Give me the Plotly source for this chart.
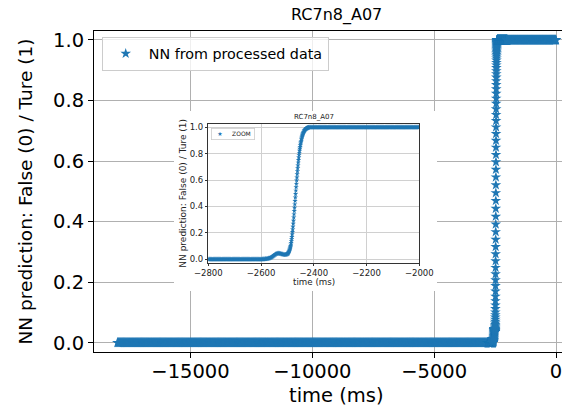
import numpy as np
import plotly.graph_objects as go

# ---------------- data: NN output vs. time (ms) ----------------
low_level = 0.0     # plateau before the transition
high_level = 1.0    # plateau after the transition

# sample times of the flat stretches
t_early = np.arange(-18000, -2800, 20)
t_pre = np.arange(-2800, -2600, 2)

# small bump ahead of the switch (2 ms samples)
t_bump = np.arange(-2600, -2500, 2)
v_bump = [0.000, 0.000, 0.000, 0.001, 0.001, 0.001, 0.002, 0.002, 0.003, 0.003,
          0.004, 0.004, 0.005, 0.006, 0.007, 0.008, 0.009, 0.010, 0.012, 0.014,
          0.016, 0.019, 0.022, 0.025, 0.028, 0.031, 0.034, 0.037, 0.040, 0.042,
          0.043, 0.044, 0.045, 0.045, 0.045, 0.045, 0.044, 0.043, 0.042, 0.040,
          0.039, 0.038, 0.037, 0.036, 0.036, 0.035, 0.035, 0.036, 0.037, 0.039]

# the switch itself (1 ms samples)
t_rise = np.arange(-2500, -2420, 1)
v_rise = [0.041, 0.043, 0.045, 0.048, 0.051, 0.055, 0.059, 0.064, 0.070, 0.077,
          0.084, 0.092, 0.101, 0.112, 0.124, 0.138, 0.153, 0.170, 0.188, 0.207,
          0.227, 0.248, 0.270, 0.293, 0.317, 0.341, 0.366, 0.391, 0.417, 0.443,
          0.469, 0.495, 0.521, 0.547, 0.572, 0.597, 0.621, 0.645, 0.668, 0.690,
          0.712, 0.733, 0.753, 0.772, 0.790, 0.807, 0.823, 0.838, 0.852, 0.865,
          0.877, 0.888, 0.898, 0.908, 0.917, 0.925, 0.933, 0.940, 0.946, 0.952,
          0.957, 0.962, 0.966, 0.970, 0.974, 0.977, 0.980, 0.983, 0.985, 0.987,
          0.989, 0.991, 0.992, 0.993, 0.994, 0.995, 0.996, 0.997, 0.998, 0.998]

t_late = np.arange(-2420, -2000, 2)
t_tail = np.arange(-2000, 1, 10)

x_tick_vals = [-15000, -10000, -5000, 0]
x_tick_text = ["\u221215000", "\u221210000", "\u22125000", "0"]
y_tick_vals = [0.0, 0.2, 0.4, 0.6, 0.8, 1.0]
inset_x_ticks = [-2800, -2600, -2400, -2200, -2000]
inset_x_text = ["\u22122800", "\u22122600", "\u22122400", "\u22122200", "\u22122000"]

time = np.concatenate([t_early, t_pre, t_bump, t_rise, t_late, t_tail])
pred = np.concatenate([
    np.full(len(t_early) + len(t_pre), low_level),
    v_bump,
    v_rise,
    np.full(len(t_late) + len(t_tail), high_level),
])
zoom = (time >= -2800) & (time <= -2000)

# ---------------- layout helpers (pixel -> paper) ----------------
W, H = 562, 411
ML, MR, MT, MB = 94, 0, 31, 59
PW, PH = W - ML - MR, H - MT - MB


def px(x):
    return (x - ML) / PW


def py(y):
    return (H - MB - y) / PH


BLUE = "#1f77b4"
FONT = "DejaVu Sans"
GRID = "#b0b0b0"

fig = go.Figure()

fig.add_trace(go.Scatter(
    x=time, y=pred, mode="markers", name="NN from processed data",
    marker=dict(symbol="star", size=8, color=BLUE),
    xaxis="x", yaxis="y",
))
# white panel behind the zoomed view
fig.add_trace(go.Scatter(x=[], y=[], xaxis="x2", yaxis="y2",
                         showlegend=False, hoverinfo="skip"))
fig.add_trace(go.Scatter(
    x=time[zoom], y=pred[zoom], mode="markers", name="ZOOM",
    marker=dict(symbol="star", size=4, color=BLUE),
    xaxis="x3", yaxis="y3", showlegend=False,
))

main_axis = dict(
    showline=True, linecolor="black", linewidth=1, automargin=False,
    ticks="outside", ticklen=5, tickwidth=1, tickcolor="black",
    showgrid=True, gridcolor=GRID, gridwidth=0.8, zeroline=False,
    tickfont=dict(family=FONT, size=19.5, color="black"),
    ticklabeloverflow="allow",
)
inset_axis = dict(
    showline=True, linecolor="#333333", linewidth=0.8, mirror=True,
    automargin=False, ticklabeloverflow="allow",
    ticks="outside", ticklen=2.5, tickwidth=0.7, tickcolor="#333333",
    showgrid=True, gridcolor="#d0d0d0", gridwidth=0.6, zeroline=False,
    tickfont=dict(family=FONT, size=8.5, color="#222222"),
)
hidden_axis = dict(range=[0, 1], showgrid=False, zeroline=False,
                   showticklabels=False, showline=False, ticks="",
                   fixedrange=True, automargin=False)

fig.update_layout(
    width=W, height=H, autosize=False,
    margin=dict(l=ML, r=MR, t=MT, b=MB, pad=0, autoexpand=False),
    paper_bgcolor="white", plot_bgcolor="white",
    font=dict(family=FONT, color="black"),
    xaxis=dict(main_axis, domain=[0, 1], range=[-18960, 246], mirror=True,
               tickvals=x_tick_vals, ticktext=x_tick_text, anchor="y",
               ticklabelstandoff=-3),
    yaxis=dict(main_axis, domain=[0, 1], range=[-0.0307, 1.0297],
               tickvals=y_tick_vals, tickformat=".1f", anchor="x"),
    xaxis2=dict(hidden_axis, domain=[px(174), px(437)], anchor="y2"),
    yaxis2=dict(hidden_axis, domain=[py(291), py(111)], anchor="x2"),
    xaxis3=dict(inset_axis, domain=[px(208.3), px(419.3)], range=[-2800, -2000],
                tickvals=inset_x_ticks, ticktext=inset_x_text, anchor="y3"),
    yaxis3=dict(inset_axis, domain=[py(262.7), py(124)], range=[-0.0258, 1.025],
                tickvals=y_tick_vals, tickformat=".1f", anchor="x3"),
    legend=dict(
        x=px(101.7), y=py(36.7), xanchor="left", yanchor="top",
        bgcolor="rgba(255,255,255,0.8)", bordercolor="#cccccc", borderwidth=1,
        font=dict(family=FONT, size=14.3, color="black"), itemwidth=36,
    ),
    showlegend=True,
)

ann = [
    dict(text="RC7n8_A07", x=px(336), y=py(15), font=dict(size=16)),
    dict(text="time (ms)", x=px(336), y=py(395.5), font=dict(size=19.5)),
    dict(text="NN prediction: False (0) / Ture (1)", x=px(25), y=py(191.5),
         textangle=-90, font=dict(size=18.5)),
    dict(text="RC7n8_A07", x=px(313.8), y=py(116.7),
         font=dict(size=7, color="#222222")),
    dict(text="time (ms)", x=px(313.8), y=py(281.7),
         font=dict(size=8.7, color="#222222")),
    dict(text="NN prediction: False (0) / Ture (1)", x=px(183.3), y=py(193.4),
         textangle=-90, font=dict(size=9, color="#222222")),
]
for a in ann:
    fig.add_annotation(xref="paper", yref="paper", showarrow=False,
                       xanchor="center", yanchor="middle",
                       **{k: v for k, v in a.items() if k != "font"},
                       font=dict(family=FONT, **a["font"]))

# legend box of the zoomed view
fig.add_annotation(
    xref="paper", yref="paper", x=px(211), y=py(127.5),
    xanchor="left", yanchor="top", showarrow=False, align="left",
    text=("&nbsp;&nbsp;<span style='color:%s'>\u2605</span>"
          "&nbsp;&nbsp;&nbsp;&nbsp;&nbsp;ZOOM&nbsp;" % BLUE),
    font=dict(family=FONT, size=6, color="#222222"),
    bgcolor="rgba(255,255,255,0.8)", bordercolor="#cccccc",
    borderwidth=0.8, borderpad=1.5,
)

fig.write_html("out.html", config={"responsive": False})
